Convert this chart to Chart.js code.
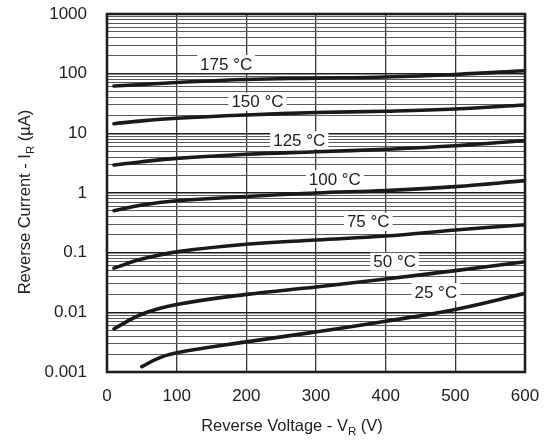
<!DOCTYPE html>
<html>
<head>
<meta charset="utf-8">
<script src="https://cdn.jsdelivr.net/npm/chart.js@4"></script>
<style>
  html, body { margin: 0; padding: 0; background: #fff; }
  #wrap { width: 550px; height: 447px; }
</style>
</head>
<body>
<div id="wrap"><canvas id="c" width="550" height="447"></canvas></div>
<script>
// ---- data ----
const voltages   = [10, 50, 100, 200, 300, 400, 500, 600];
const voltages25 = [50, 75, 100, 200, 300, 400, 500, 600];
const i175 = [62, 66, 71, 80, 84, 88, 97, 112];
const i150 = [14.5, 16.2, 17.9, 20.3, 22.3, 23.5, 25.6, 29.8];
const i125 = [2.95, 3.35, 3.81, 4.45, 4.9, 5.4, 6.2, 7.6];
const i100 = [0.505, 0.63, 0.74, 0.87, 1.0, 1.1, 1.28, 1.61];
const i75  = [0.055, 0.078, 0.103, 0.138, 0.163, 0.19, 0.24, 0.294];
const i50  = [0.0053, 0.0093, 0.0135, 0.020, 0.0266, 0.0362, 0.050, 0.0706];
const i25  = [0.00123, 0.00172, 0.0021, 0.0032, 0.0047, 0.0071, 0.0112, 0.0208];
const seriesNames = ['175 °C', '150 °C', '125 °C', '100 °C', '75 °C', '50 °C', '25 °C'];
const xTickLabels = ['0', '100', '200', '300', '400', '500', '600'];
const yTickLabels = ['0.001', '0.01', '0.1', '1', '10', '100', '1000'];
// curve label anchors (V, µA)
const labelV = [171, 216, 276, 327, 375, 413, 472];
const labelI = [145, 33.9, 7.73, 1.72, 0.33, 0.0706, 0.0219];

const seriesX = [voltages, voltages, voltages, voltages, voltages, voltages, voltages25];
const seriesY = [i175, i150, i125, i100, i75, i50, i25];

const FONT = '"Liberation Sans", Arial, Helvetica, sans-serif';
const INK = '#222';

const datasets = seriesY.map((ys, k) => ({
  label: seriesNames[k],
  data: ys.map((y, i) => ({ x: seriesX[k][i], y: y })),
  borderColor: '#1a1a1a',
  borderWidth: 3.6,
  pointRadius: 0,
  fill: false,
  tension: 0.4,
  borderCapStyle: 'round'
}));

const isDecade = v => Math.abs(Math.log10(v) - Math.round(Math.log10(v))) < 1e-9;

const decor = {
  id: 'decor',
  beforeDatasetsDraw(chart) {
    const { ctx, scales: { x, y } } = chart;
    ctx.save();
    ctx.font = '17px ' + FONT;
    ctx.textBaseline = 'middle';
    ctx.textAlign = 'center';
    seriesNames.forEach((name, k) => {
      const cx = x.getPixelForValue(labelV[k]);
      const cy = y.getPixelForValue(labelI[k]);
      const w = ctx.measureText(name).width + 6;
      const h = 18;
      ctx.fillStyle = '#fff';
      ctx.fillRect(cx - w / 2, cy - h / 2, w, h);
      ctx.fillStyle = INK;
      ctx.fillText(name, cx, cy + 1);
    });
    ctx.restore();
  },
  afterDraw(chart) {
    const { ctx, chartArea: a } = chart;
    ctx.save();
    ctx.strokeStyle = '#1e1e1e';
    ctx.lineWidth = 2.6;
    ctx.strokeRect(a.left, a.top, a.right - a.left, a.bottom - a.top);

    const drawSub = (parts, cx, cy) => {
      const big = '16.5px ' + FONT, small = '11.5px ' + FONT;
      let total = 0;
      parts.forEach(p => { ctx.font = p.sub ? small : big; total += ctx.measureText(p.t).width; });
      let px = cx - total / 2;
      ctx.textAlign = 'left';
      ctx.textBaseline = 'alphabetic';
      ctx.fillStyle = INK;
      parts.forEach(p => {
        ctx.font = p.sub ? small : big;
        ctx.fillText(p.t, px, cy + (p.sub ? 4 : 0));
        px += ctx.measureText(p.t).width;
      });
    };
    drawSub([{ t: 'Reverse Voltage - V' }, { t: 'R', sub: true }, { t: ' (V)' }], 292, 431);
    ctx.translate(30, 202);
    ctx.rotate(-Math.PI / 2);
    drawSub([{ t: 'Reverse Current - I' }, { t: 'R', sub: true }, { t: ' (µA)' }], 0, 0);
    ctx.restore();
  }
};

new Chart(document.getElementById('c'), {
  type: 'line',
  data: { datasets },
  plugins: [decor],
  options: {
    responsive: false,
    animation: false,
    layout: { padding: { left: 0, right: 25, top: 14, bottom: 0 } },
    plugins: { legend: { display: false }, tooltip: { enabled: false } },
    scales: {
      x: {
        type: 'linear', min: 0, max: 600,
        afterFit(s) { s.height = 75; s.paddingLeft = 0; s.paddingRight = 0; },
        afterBuildTicks(s) { s.ticks = xTickLabels.map(v => ({ value: Number(v) })); },
        ticks: {
          autoSkip: false, maxRotation: 0, padding: 14,
          color: INK, font: { family: FONT, size: 17 },
          callback: v => xTickLabels[xTickLabels.indexOf(String(v))]
        },
        grid: { drawTicks: false, color: '#3a3a3a', lineWidth: 1.3 },
        border: { display: false }
      },
      y: {
        type: 'logarithmic', min: 0.001, max: 1000,
        afterFit(s) { s.width = 107; s.paddingTop = 0; s.paddingBottom = 0; },
        afterBuildTicks(s) {
          const t = [];
          for (let e = -3; e <= 2; e++) for (let m = 1; m <= 9; m++) t.push({ value: m * Math.pow(10, e) });
          t.push({ value: 1000 });
          s.ticks = t;
        },
        ticks: {
          autoSkip: false, padding: 20,
          color: INK, font: { family: FONT, size: 17 },
          callback: v => isDecade(v) ? yTickLabels[Math.round(Math.log10(v)) + 3] : ''
        },
        grid: {
          drawTicks: false,
          color: c => (c.tick && isDecade(c.tick.value)) ? '#1e1e1e' : '#5a5a5a',
          lineWidth: c => (c.tick && isDecade(c.tick.value)) ? 1.6 : 1
        },
        border: { display: false }
      }
    }
  }
});
</script>
</body>
</html>
